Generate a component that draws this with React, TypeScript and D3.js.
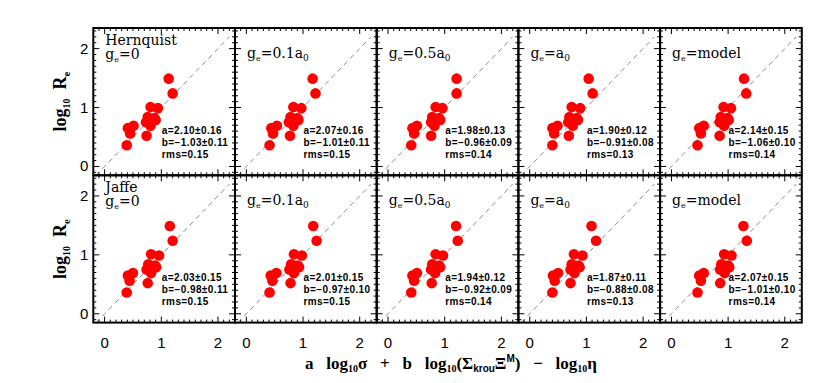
import * as d3 from 'd3'

// log10 Re of the galaxies (same in every panel)
const LOG_RE = [1.49, 1.24, 1.01, 0.99, 0.84, 0.82, 0.75, 0.79, 0.69, 0.52, 0.69, 0.65, 0.56, 0.36]

// predicted values, one array per panel
const HERN_G0   = [1.13, 1.20, 0.81, 0.94, 0.76, 0.88, 0.73, 0.90, 0.81, 0.74, 0.51, 0.41, 0.45, 0.39]
const HERN_G01  = [1.17, 1.22, 0.83, 0.97, 0.78, 0.90, 0.75, 0.92, 0.83, 0.77, 0.54, 0.44, 0.47, 0.41]
const HERN_G05  = [1.21, 1.21, 0.84, 0.96, 0.78, 0.90, 0.76, 0.92, 0.82, 0.76, 0.51, 0.43, 0.46, 0.41]
const HERN_GA0  = [1.04, 1.11, 0.74, 0.89, 0.70, 0.83, 0.68, 0.85, 0.76, 0.69, 0.49, 0.40, 0.43, 0.40]
const HERN_GMOD = [1.28, 1.32, 0.92, 1.05, 0.87, 0.99, 0.85, 1.01, 0.93, 0.85, 0.57, 0.49, 0.52, 0.46]

const JAFFE_G0   = [1.15, 1.20, 0.82, 0.96, 0.77, 0.89, 0.74, 0.91, 0.82, 0.76, 0.50, 0.41, 0.44, 0.39]
const JAFFE_G01  = [1.18, 1.24, 0.84, 0.98, 0.79, 0.91, 0.76, 0.93, 0.84, 0.78, 0.53, 0.43, 0.46, 0.41]
const JAFFE_G05  = [1.20, 1.23, 0.84, 0.97, 0.78, 0.90, 0.76, 0.92, 0.83, 0.77, 0.51, 0.43, 0.46, 0.41]
const JAFFE_GA0  = [1.09, 1.17, 0.78, 0.93, 0.74, 0.86, 0.72, 0.88, 0.79, 0.72, 0.50, 0.41, 0.44, 0.40]
const JAFFE_GMOD = [1.27, 1.33, 0.93, 1.06, 0.88, 1.00, 0.86, 1.02, 0.94, 0.86, 0.57, 0.49, 0.52, 0.46]

const PROFILES = ['Hernquist', 'Jaffe']
const GE_LABELS = ['0', '0.1a0', '0.5a0', 'a0', 'model']

const FIT_A = [
  ['2.10±0.16', '2.07±0.16', '1.98±0.13', '1.90±0.12', '2.14±0.15'],
  ['2.03±0.15', '2.01±0.15', '1.94±0.12', '1.87±0.11', '2.07±0.15'],
]
const FIT_B = [
  ['−1.03±0.11', '−1.01±0.11', '−0.96±0.09', '−0.91±0.08', '−1.06±0.10'],
  ['−0.98±0.11', '−0.97±0.10', '−0.92±0.09', '−0.88±0.08', '−1.01±0.10'],
]
const FIT_RMS = [
  ['0.15', '0.15', '0.14', '0.13', '0.14'],
  ['0.15', '0.15', '0.14', '0.13', '0.14'],
]

const PANEL_X = [
  [HERN_G0, HERN_G01, HERN_G05, HERN_GA0, HERN_GMOD],
  [JAFFE_G0, JAFFE_G01, JAFFE_G05, JAFFE_GA0, JAFFE_GMOD],
]

const MAJOR = [0, 1, 2]

const W = 830
const H = 383
const LEFT = 93.3
const TOP = 28
const PW = 141.7
const PH = 147.3
const X_DOM: [number, number] = [-0.2, 2.3]
const Y_DOM: [number, number] = [-0.15, 2.35]

const SERIF = 'Liberation Serif, Times New Roman, serif'
const LABEL_SERIF = 'DejaVu Serif, serif'
const SANS = 'Liberation Sans, Arial, sans-serif'

function GeLabel({ x, y, value }: { x: number; y: number; value: string }) {
  const hasA0 = value.endsWith('a0')
  const main = hasA0 ? value.slice(0, -1) : value
  return (
    <text x={x} y={y} fontSize={14} fontFamily={LABEL_SERIF} fill="#000">
      g<tspan dy={3} fontSize={8}>e</tspan>
      <tspan dy={-3}>={main}</tspan>
      {hasA0 && <tspan dy={3} fontSize={9}>0</tspan>}
    </text>
  )
}

function Panel({ row, col }: { row: number; col: number }) {
  const x0 = LEFT + col * PW
  const y0 = TOP + row * PH
  const x = d3.scaleLinear().domain(X_DOM).range([x0, x0 + PW])
  const y = d3.scaleLinear().domain(Y_DOM).range([y0 + PH, y0])
  const xs = PANEL_X[row][col]

  const minor = d3.range(-1, 23).map(d => d / 10).filter(d => Math.abs(d - Math.round(d)) > 1e-6)
  const minorY = d3.range(-1, 24).map(d => d / 10).filter(d => Math.abs(d - Math.round(d)) > 1e-6)

  const diag = d3.line<number>().x(d => x(d)).y(d => y(d))([-0.15, 2.2]) || ''

  const tickStroke = { stroke: '#000', strokeWidth: 1 }
  const ta = x0 + 68.5

  return (
    <g>
      <path d={diag} fill="none" stroke="#8c8c8c" strokeWidth={1} strokeDasharray="5,4" />

      {xs.map((v, i) => (
        <circle key={i} cx={x(v)} cy={y(LOG_RE[i])} r={5.3} fill="#ff0000" />
      ))}

      {/* ticks, all inward */}
      {MAJOR.map(t => (
        <g key={'mx' + t}>
          <line x1={x(t)} x2={x(t)} y1={y0 + PH} y2={y0 + PH - 6} {...tickStroke} />
          <line x1={x(t)} x2={x(t)} y1={y0} y2={y0 + 6} {...tickStroke} />
          <line y1={y(t)} y2={y(t)} x1={x0} x2={x0 + 6} {...tickStroke} />
          <line y1={y(t)} y2={y(t)} x1={x0 + PW} x2={x0 + PW - 6} {...tickStroke} />
        </g>
      ))}
      {minor.map(t => (
        <g key={'nx' + t}>
          <line x1={x(t)} x2={x(t)} y1={y0 + PH} y2={y0 + PH - 3} {...tickStroke} />
          <line x1={x(t)} x2={x(t)} y1={y0} y2={y0 + 3} {...tickStroke} />
        </g>
      ))}
      {minorY.map(t => (
        <g key={'ny' + t}>
          <line y1={y(t)} y2={y(t)} x1={x0} x2={x0 + 3} {...tickStroke} />
          <line y1={y(t)} y2={y(t)} x1={x0 + PW} x2={x0 + PW - 3} {...tickStroke} />
        </g>
      ))}

      <rect x={x0} y={y0} width={PW} height={PH} fill="none" stroke="#000" strokeWidth={2} />

      {col === 0 ? (
        <>
          <text x={x0 + 12} y={y0 + 17} fontSize={14} fontFamily={LABEL_SERIF}>{PROFILES[row]}</text>
          <GeLabel x={x0 + 12} y={y0 + 30.5} value={GE_LABELS[col]} />
        </>
      ) : (
        <GeLabel x={x0 + 12} y={y0 + 29.5} value={GE_LABELS[col]} />
      )}

      <g fontSize={10} fontWeight="bold" fontFamily={SANS} letterSpacing={0.4}>
        <text x={ta} y={y0 + 105.5}>a={FIT_A[row][col]}</text>
        <text x={ta} y={y0 + 118}>b={FIT_B[row][col]}</text>
        <text x={ta} y={y0 + 130}>rms={FIT_RMS[row][col]}</text>
      </g>

      {/* y tick labels on first column */}
      {col === 0 && MAJOR.map(t => (
        <text key={'yl' + t} x={x0 - 5} y={y(t) + 5} textAnchor="end" fontSize={15} fontFamily={SANS}>{t}</text>
      ))}
      {/* x tick labels on bottom row */}
      {row === 1 && MAJOR.map(t => (
        <text key={'xl' + t} x={x(t)} y={y0 + PH + 25} textAnchor="middle" fontSize={15} fontFamily={SANS}>{t}</text>
      ))}
    </g>
  )
}

export default function App() {
  const cells = [0, 1].flatMap(r => [0, 1, 2, 3, 4].map(c => ({ r, c })))
  return (
    <svg width={W} height={H} style={{ position: 'absolute', left: 0, top: 0, background: '#fff' }}>
      <rect width={W} height={H} fill="#fff" />
      {cells.map(({ r, c }) => <Panel key={r + '-' + c} row={r} col={c} />)}

      {[0, 1].map(r => (
        <text key={'yt' + r}
          transform={`translate(66,${TOP + r * PH + PH / 2}) rotate(-90)`}
          textAnchor="middle" fontSize={18} fontWeight="bold" fontFamily={SERIF}
          style={{ whiteSpace: 'pre' }}>
          log<tspan dy={4} fontSize={10}>10</tspan>
          <tspan dy={-4}>  R</tspan>
          <tspan dy={4} fontSize={11}>e</tspan>
        </text>
      ))}

      <text x={451} y={369} textAnchor="middle" fontSize={17} fontWeight="bold" fontFamily={SERIF}
        style={{ whiteSpace: 'pre' }}>
        a   log<tspan dy={3} fontSize={10}>10</tspan>
        <tspan dy={-3}>σ   +   b   log</tspan>
        <tspan dy={3} fontSize={10}>10</tspan>
        <tspan dy={-3}>(Σ</tspan>
        <tspan dy={3} fontSize={10} fontFamily={SANS}>krou</tspan>
        <tspan dy={-3}>Ξ</tspan>
        <tspan dy={-7} fontSize={10} fontFamily={SANS}>M</tspan>
        <tspan dy={7}>)   −   log</tspan>
        <tspan dy={3} fontSize={10}>10</tspan>
        <tspan dy={-3}>η</tspan>
      </text>
    </svg>
  )
}
